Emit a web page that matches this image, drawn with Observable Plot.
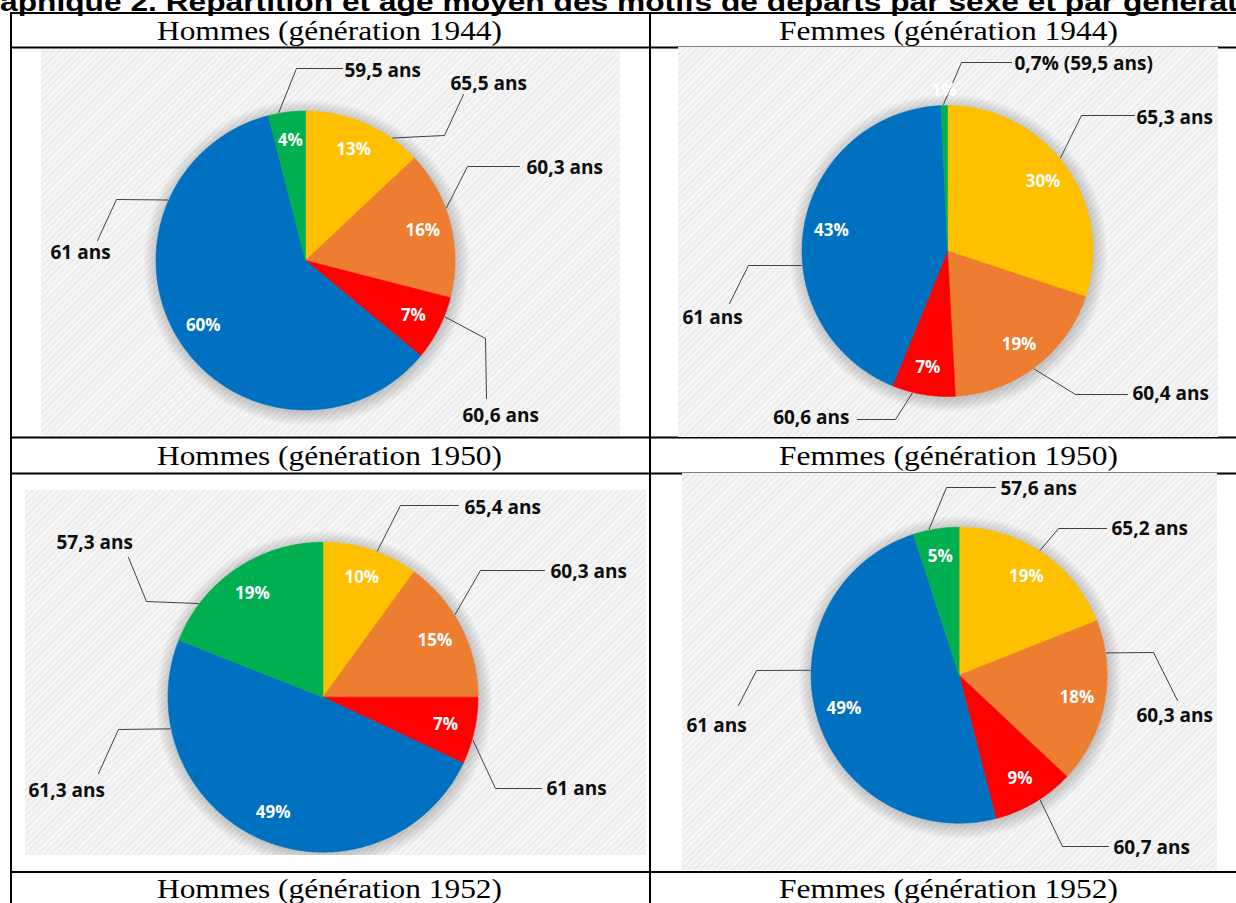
<!DOCTYPE html>
<html>
<head>
<meta charset="utf-8">
<script src="https://cdn.jsdelivr.net/npm/d3@7"></script>
<script src="https://cdn.jsdelivr.net/npm/@observablehq/plot@0.6"></script>
<style>
  html, body { margin: 0; padding: 0; background: #fff; }
  body { width: 1236px; height: 903px; overflow: hidden; position: relative; }
  #frame { position: absolute; left: 0; top: 0; }
  .panel { position: absolute; }
  .panel svg { display: block; background: transparent !important; }
</style>
</head>
<body>
<svg width="0" height="0" style="position:absolute">
  <defs>
    <pattern id="hatch" width="4.5" height="4.5" patternUnits="userSpaceOnUse" patternTransform="rotate(45)">
      <rect width="4.5" height="4.5" fill="#f7f7f7"></rect>
      <rect width="2.2" height="4.5" fill="#ececec"></rect>
    </pattern>
  </defs>
</svg>
<svg id="frame" width="1236" height="903"></svg>
<div id="panels"></div>
<script>
// ---------------- DATA ----------------
const titleText = "Graphique 2. Répartition et âge moyen des motifs de départs par sexe et par génération";
const panelTitles = [
  "Hommes (génération 1944)", "Femmes (génération 1944)",
  "Hommes (génération 1950)", "Femmes (génération 1950)",
  "Hommes (génération 1952)", "Femmes (génération 1952)"
];
// slice order, clockwise from 12 o'clock
const categories = ["jaune", "orange", "rouge", "bleu", "vert"];
const sliceColors = ["#FFC000", "#ED7D31", "#FF0000", "#0070C0", "#00B050"];

// shares (%) and mean age (ans)
const sharesH1944 = [13, 16, 7, 60, 4];
const agesH1944   = [65.5, 60.3, 60.6, 61, 59.5];
const sharesF1944 = [30, 19, 7, 43, 0.7];
const agesF1944   = [65.3, 60.4, 60.6, 61, 59.5];
const sharesH1950 = [10, 15, 7, 49, 19];
const agesH1950   = [65.4, 60.3, 61, 61.3, 57.3];
const sharesF1950 = [19, 18, 9, 49, 5];
const agesF1950   = [65.2, 60.3, 60.7, 61, 57.6];

// ---------------- LAYOUT (page pixels) ----------------
const panels = [
  { shares: sharesH1944, ages: agesH1944, box: [41, 49, 620, 435], c: [305, 260], r: 149.5,
    leaders: [
      { a: 35.5,  p2: [444, 135], p3: [463, 94],  t: [450, 83],  anchor: "start" },
      { a: 69.5,  p2: [467, 166], p3: [519, 166], t: [526, 167], anchor: "start" },
      { a: 112,   p2: [485, 338], p3: [486, 398], t: [462, 415], anchor: "start" },
      { a: 293.7, p2: [116, 199], p3: [97, 240],  t: [50, 252],  anchor: "start" },
      { a: 349.8, p2: [296, 68],  p3: [342, 68],  t: [344, 70],  anchor: "start" }
    ] },
  { shares: sharesF1944, ages: agesF1944, box: [678, 47, 1218, 437], c: [947, 250.5], r: 145.5,
    leaders: [
      { a: 50.5,  p2: [1081, 115], p3: [1134, 115], t: [1136, 117], anchor: "start" },
      { a: 143.7, p2: [1075, 394], p3: [1127, 394], t: [1132, 393], anchor: "start" },
      { a: 193.9, p2: [895, 419],  p3: [857, 419],  t: [849, 417],  anchor: "end" },
      { a: 264.3, p2: [748, 265],  p3: [729, 303],  t: [682, 317],  anchor: "start" },
      { a: 358.4, p2: [961, 62],   p3: [1011, 62],  t: [1014, 63],  anchor: "start" }
    ] },
  { shares: sharesH1950, ages: agesH1950, box: [25, 490, 646, 855], c: [322.5, 696.7], r: 155,
    leaders: [
      { a: 20.4,  p2: [400, 505], p3: [458, 505], t: [464, 507], anchor: "start" },
      { a: 57.9,  p2: [480, 570], p3: [544, 570], t: [550, 571], anchor: "start" },
      { a: 106,   p2: [495, 788], p3: [541, 788], t: [546, 788], anchor: "start" },
      { a: 258.3, p2: [118, 729], p3: [98, 773],  t: [28, 790],  anchor: "start" },
      { a: 306.9, p2: [146, 601], p3: [128, 557], t: [56, 542],  anchor: "start" }
    ] },
  { shares: sharesF1950, ages: agesF1950, box: [682, 473, 1217, 870], c: [958.6, 674.7], r: 148,
    leaders: [
      { a: 33,    p2: [1058, 528], p3: [1106, 528], t: [1111, 528], anchor: "start" },
      { a: 81.4,  p2: [1153, 652], p3: [1177, 700], t: [1136, 715], anchor: "start" },
      { a: 147,   p2: [1062, 846], p3: [1108, 846], t: [1113, 847], anchor: "start" },
      { a: 271.9, p2: [756, 670],  p3: [738, 705],  t: [686, 725],  anchor: "start" },
      { a: 348.4, p2: [946, 487],  p3: [995, 487],  t: [1000, 488], anchor: "start" }
    ] }
];
const headerBoxes = [
  { x: 157, w: 345, y: 40 }, { x: 779, w: 339, y: 40 },
  { x: 157, w: 345, y: 465 }, { x: 779, w: 339, y: 465 },
  { x: 157, w: 345, y: 898 }, { x: 779, w: 339, y: 898 }
];
const hLines = [13, 47.5, 437.5, 473.5, 872];
const vLines = [11, 650];
const shadowRings = [1, 3, 5, 7, 9, 11, 13];

// ---------------- FRAME (title, table, headers) ----------------
const frame = d3.select("#frame");
for (const y of hLines) frame.append("line").attr("x1", 10).attr("x2", 1236).attr("y1", y).attr("y2", y)
  .attr("stroke", "#000").attr("stroke-width", 2);
for (const x of vLines) frame.append("line").attr("x1", x).attr("x2", x).attr("y1", 12).attr("y2", 903)
  .attr("stroke", "#000").attr("stroke-width", 2);
panelTitles.forEach((t, i) => {
  const b = headerBoxes[i];
  frame.append("text").attr("x", b.x).attr("y", b.y).attr("textLength", b.w).attr("lengthAdjust", "spacingAndGlyphs")
    .attr("font-family", "'Liberation Serif', serif").attr("font-size", 27).attr("fill", "#000").text(t);
});
// title, clipped at the top of the page
{
  const ctx = document.createElement("canvas").getContext("2d");
  const fs = 26;
  ctx.font = `bold ${fs}px 'Liberation Sans'`;
  const wGr = ctx.measureText(titleText.slice(0, 2)).width;
  const vis = titleText.slice(2, titleText.indexOf("génération") + 7);
  const wVis = ctx.measureText(vis).width;
  const s = 1238 / wVis;
  frame.append("text").attr("x", 0).attr("y", 11)
    .attr("transform", `translate(${-wGr * s},0) scale(${s},1)`)
    .attr("font-family", "'Liberation Sans', Arial, sans-serif").attr("font-weight", "bold").attr("font-size", fs)
    .attr("fill", "#000").text(titleText);
}

// ---------------- PIES ----------------
const polar = (c, r, deg) => { const t = deg * Math.PI / 180; return [c[0] + r * Math.sin(t), c[1] - r * Math.cos(t)]; };
const fmtNum = v => String(v).replace(".", ",");
const fmtPct = v => Math.round(v) + "%";
const labelFont = { fontFamily: "'Open Sans', sans-serif", fontWeight: "bold" };

panels.forEach((p, i) => {
  const [x0, y0, x1, y1] = p.box;
  const total = d3.sum(p.shares);
  let acc = 0;
  const slices = p.shares.map((v, k) => {
    const a0 = acc / total * 360; acc += v; const a1 = acc / total * 360;
    return { k, cat: categories[k], v, a0, a1, mid: (a0 + a1) / 2, color: sliceColors[k], age: p.ages[k] };
  });
  const marks = [];
  marks.push(Plot.rect([p.box], { x1: d => d[0], y1: d => d[1], x2: d => d[2], y2: d => d[3], fill: "url(#hatch)" }));
  // soft shadow halo
  for (const dr of shadowRings) {
    marks.push(Plot.dot([p.c], { x: d => d[0] + 1, y: d => d[1] + 2, r: p.r + dr, fill: "#000", fillOpacity: 0.028, stroke: "none" }));
  }
  for (const s of slices) {
    const n = Math.max(2, Math.ceil((s.a1 - s.a0) / 0.5));
    const pts = [p.c];
    for (let j = 0; j <= n; j++) pts.push(polar(p.c, p.r, s.a0 + (s.a1 - s.a0) * j / n));
    pts.push(p.c);
    marks.push(Plot.line(pts, { x: d => d[0], y: d => d[1], fill: s.color, stroke: s.color, strokeWidth: 0.6, strokeLinejoin: "round" }));
  }
  // leader lines
  slices.forEach(s => {
    const L = p.leaders[s.k];
    const pts = [polar(p.c, p.r + 1, L.a), L.p2, L.p3];
    marks.push(Plot.line(pts, { x: d => d[0], y: d => d[1], stroke: "#404040", strokeWidth: 1 }));
  });
  const outer = slices.map(s => ({
    x: p.leaders[s.k].t[0], y: p.leaders[s.k].t[1], anchor: p.leaders[s.k].anchor,
    text: (s.v < 1 ? fmtNum(s.v) + "% (" : "") + fmtNum(s.age) + " ans" + (s.v < 1 ? ")" : "")
  }));
  for (const anchor of ["start", "end"]) {
    marks.push(Plot.text(outer.filter(d => d.anchor === anchor), {
      x: "x", y: "y", text: "text", textAnchor: anchor, fontSize: 19, fill: "#0d0d0d", ...labelFont
    }));
  }
  marks.push(Plot.text(slices, {
    x: s => polar(p.c, p.r * (s.v < 1 ? 1.1 : 0.81), s.mid)[0],
    y: s => polar(p.c, p.r * (s.v < 1 ? 1.1 : 0.81), s.mid)[1],
    text: s => fmtPct(s.v), fill: "#fff", fontSize: 17, ...labelFont
  }));
  const chart = Plot.plot({
    width: x1 - x0, height: y1 - y0, margin: 0,
    x: { domain: [x0, x1], range: [0, x1 - x0], axis: null },
    y: { domain: [y0, y1], range: [0, y1 - y0], axis: null },
    marks
  });
  const div = document.createElement("div");
  div.className = "panel";
  div.style.left = x0 + "px"; div.style.top = y0 + "px";
  div.appendChild(chart);
  document.getElementById("panels").appendChild(div);
});
</script>
</body>
</html>
